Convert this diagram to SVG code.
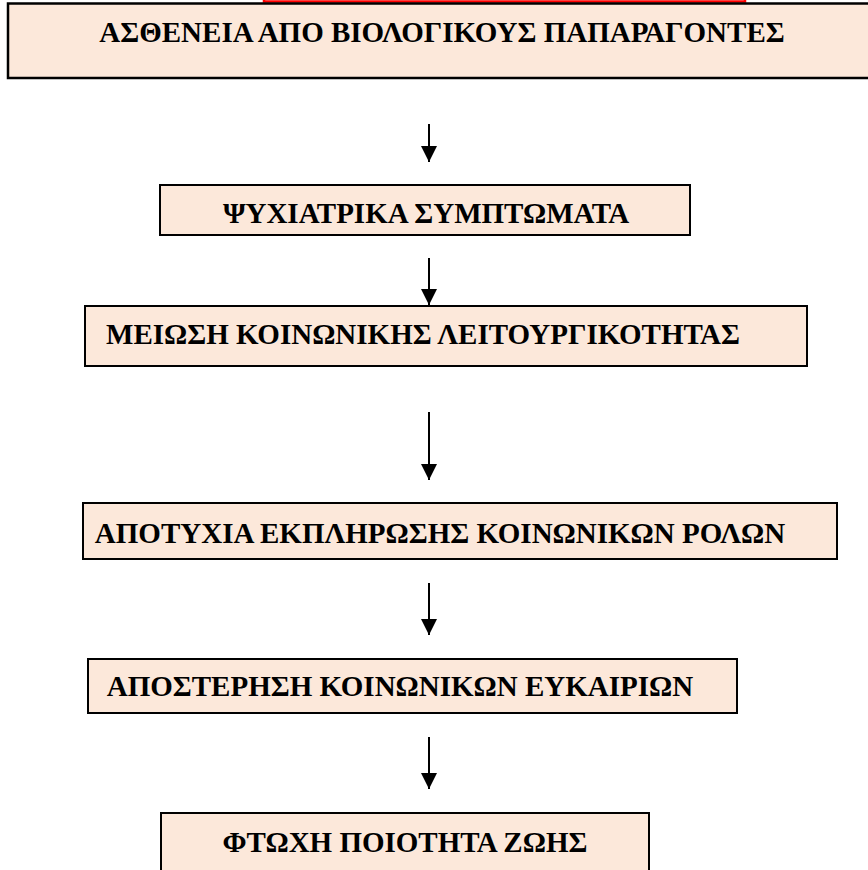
<svg xmlns="http://www.w3.org/2000/svg" width="868" height="870" viewBox="0 0 868 870">
<style>
.box{fill:#FCE8DA;stroke:#000;stroke-width:2}
.lbl{font-family:"Liberation Serif","Times New Roman",serif;font-weight:bold;font-size:29px;fill:#000;text-anchor:middle}
.conn{stroke:#000;stroke-width:2;fill:none}
</style>
<defs>
<marker id="ah" markerWidth="8" markerHeight="8" refX="8" refY="4" orient="auto" markerUnits="strokeWidth">
<path d="M0,0 L8,4 L0,8 Z" fill="#000"/>
</marker>
</defs>
<rect x="264" y="-20" width="481" height="21.5" fill="none" stroke="#FF0000" stroke-width="2.5"/>
<g id="n1"><rect class="box" x="8" y="3.5" width="880" height="74.5" style="stroke-width:2.5"/><text class="lbl" x="442" y="42">ΑΣΘΕΝΕΙΑ ΑΠΟ ΒΙΟΛΟΓΙΚΟΥΣ ΠΑΠΑΡΑΓΟΝΤΕΣ</text></g>
<g id="n2"><rect class="box" x="160" y="185" width="530" height="50"/><text class="lbl" x="426" y="223">ΨΥΧΙΑΤΡΙΚΑ ΣΥΜΠΤΩΜΑΤΑ</text></g>
<g id="n3"><rect class="box" x="85" y="306" width="722" height="60"/><text class="lbl" x="423" y="344">ΜΕΙΩΣΗ ΚΟΙΝΩΝΙΚΗΣ ΛΕΙΤΟΥΡΓΙΚΟΤΗΤΑΣ</text></g>
<g id="n4"><rect class="box" x="83" y="503" width="754" height="56"/><text class="lbl" x="440" y="543">ΑΠΟΤΥΧΙΑ ΕΚΠΛΗΡΩΣΗΣ ΚΟΙΝΩΝΙΚΩΝ ΡΟΛΩΝ</text></g>
<g id="n5"><rect class="box" x="88" y="659" width="649" height="54"/><text class="lbl" x="400" y="696">ΑΠΟΣΤΕΡΗΣΗ ΚΟΙΝΩΝΙΚΩΝ ΕΥΚΑΙΡΙΩΝ</text></g>
<g id="n6"><rect class="box" x="161" y="813" width="488" height="70"/><text class="lbl" x="405" y="852">ΦΤΩΧΗ ΠΟΙΟΤΗΤΑ ΖΩΗΣ</text></g>
<g id="connectors">
<line class="conn" x1="429" y1="124" x2="429" y2="162" marker-end="url(#ah)"/>
<line class="conn" x1="429" y1="258" x2="429" y2="305" marker-end="url(#ah)"/>
<line class="conn" x1="429" y1="412" x2="429" y2="480" marker-end="url(#ah)"/>
<line class="conn" x1="429" y1="583" x2="429" y2="635" marker-end="url(#ah)"/>
<line class="conn" x1="429" y1="737" x2="429" y2="789" marker-end="url(#ah)"/>
</g>
</svg>
